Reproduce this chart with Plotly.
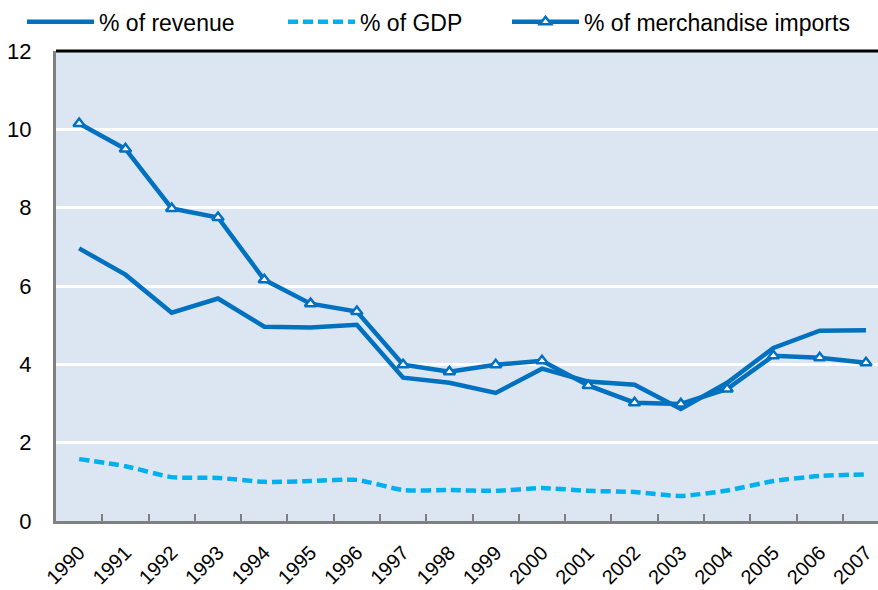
import plotly.graph_objects as go

years = [str(y) for y in range(1990, 2008)]
revenue = [6.96, 6.29, 5.32, 5.68, 4.96, 4.94, 5.01, 3.66, 3.53, 3.27, 3.89, 3.56, 3.48, 2.86, 3.53, 4.42, 4.86, 4.87]
gdp = [1.58, 1.40, 1.12, 1.10, 1.00, 1.02, 1.05, 0.79, 0.79, 0.77, 0.84, 0.77, 0.74, 0.64, 0.78, 1.02, 1.15, 1.19]
imports = [10.15, 9.50, 7.98, 7.75, 6.16, 5.55, 5.35, 3.99, 3.81, 3.99, 4.09, 3.46, 3.02, 2.99, 3.37, 4.22, 4.17, 4.04]

names = ["% of revenue", "% of GDP", "% of merchandise imports"]
dark = "#0070C0"
light = "#00B0F0"
font_family = "Liberation Sans, Arial, sans-serif"

fig = go.Figure()
fig.add_trace(go.Scatter(x=years, y=revenue, name=names[0], mode="lines", legend="legend",
                         line=dict(color=dark, width=4.5)))
fig.add_trace(go.Scatter(x=years, y=gdp, name=names[1], mode="lines", legend="legend2",
                         line=dict(color=light, width=4.5, dash="10px,5px", shape="spline", smoothing=0.6)))
fig.add_trace(go.Scatter(x=years, y=imports, name=names[2], mode="lines+markers", legend="legend3",
                         line=dict(color=dark, width=4.5),
                         marker=dict(symbol="triangle-up", size=10, color="white",
                                     line=dict(color=dark, width=2.5))))

leg_common = dict(orientation="h", xref="container", yref="container", y=0.963, yanchor="middle",
                  xanchor="left", font=dict(size=23), itemwidth=67,
                  bgcolor="rgba(0,0,0,0)", itemclick=False)

fig.update_layout(
    width=878, height=590,
    margin=dict(l=56, r=0, t=51, b=69, autoexpand=False),
    paper_bgcolor="white",
    plot_bgcolor="#DCE6F2",
    font=dict(family=font_family, size=22, color="black"),
    showlegend=True,
    legend=dict(x=22 / 878, **leg_common),
    legend2=dict(x=283 / 878, **leg_common),
    legend3=dict(x=507 / 878, **leg_common),
    xaxis=dict(type="category", range=[-0.5, 17.26], showgrid=False, automargin=False,
               showline=True, linecolor="#808080", linewidth=3,
               ticks="inside", tickson="boundaries", ticklen=7, tickcolor="#808080", tickwidth=2,
               tickangle=-45, tickfont=dict(size=20), ticklabelstandoff=9, zeroline=False),
    yaxis=dict(range=[0, 12], tickvals=[0, 2, 4, 6, 8, 10, 12], showgrid=True, automargin=False,
               gridcolor="white", gridwidth=3, showline=True, linecolor="#808080", linewidth=3,
               ticks="", ticklabelstandoff=17, tickfont=dict(size=22), zeroline=False),
    shapes=[dict(type="line", xref="paper", yref="paper", x0=0, x1=1, y0=1, y1=1,
                 line=dict(color="black", width=3))],
)

fig.write_html("out.html", config={"displayModeBar": False},
               post_script="document.body.style.margin='0';document.body.style.overflow='hidden';")
